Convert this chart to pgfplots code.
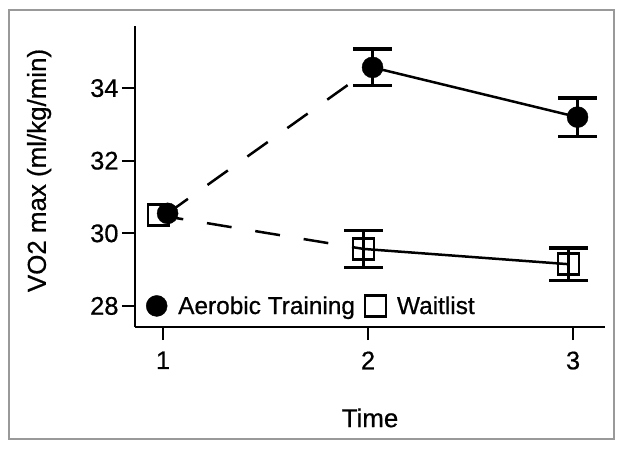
\documentclass[border=0pt]{standalone}
\usepackage{fontspec}
\setmainfont[FakeBold=0.6]{Liberation Sans}
\usepackage{pgfplots}
\pgfplotsset{compat=1.18}
\begin{document}
\begin{tikzpicture}
\path[use as bounding box] (0bp,0bp) rectangle (620bp,449bp);
\draw[black!40, line width=2.5bp] (9bp,10bp) rectangle (614bp,439bp);
\begin{axis}[
  at={(135bp,122bp)}, anchor=south west,
  scale only axis, width=470bp, height=301bp,
  xmin=0.863, xmax=3.156, ymin=27.42, ymax=35.71,
  clip marker paths=true,
  axis x line*=bottom, axis y line*=left,
  axis line style={line width=1.8bp, -},
  tick align=outside, major tick length=13bp,
  tick style={line width=1.8bp, black},
  xtick={1,2,3}, ytick={28,30,32,34},
  /pgf/number format/assume math mode=true,
  ticklabel style={font=\fontsize{25.5}{30}\selectfont},
  xticklabel style={yshift=-8bp},
  label style={font=\fontsize{26}{31}\selectfont},
  xlabel={Time}, ylabel={VO2 max (ml/kg/min)},
  xlabel style={at={(axis description cs:0.5,-0.302)}, anchor=center},
  ylabel style={at={(axis description cs:-0.204,0.52)}, anchor=center},
  legend style={at={(axis description cs:0.0234,0.07)}, anchor=west, draw=none, fill=none,
    font=\fontsize{24.5}{30}\selectfont, inner sep=0pt,
    /tikz/every odd column/.append style={column sep=9bp},
    /tikz/every even column/.append style={column sep=8bp}},
  legend columns=2,
  legend image code/.code={\draw[#1] plot coordinates {(11bp,0bp)};},
]
% markers
\addplot[forget plot, only marks, mark=square*, mark size=10.5bp, mark options={fill=white, draw=black, line width=2.5bp}]
  coordinates {(0.978,30.50) (1.978,29.57) (2.978,29.15)};
\addplot[forget plot, only marks, mark=*, mark size=10.5bp, mark options={fill=black, draw=black}]
  coordinates {(1.022,30.55) (2.022,34.57) (3.022,33.20)};
% lines
\addplot[forget plot, no marks, black, line width=2.5bp, dash pattern=on 25bp off 24bp]
  coordinates {(1.022,30.55) (2.022,34.57)};
\addplot[forget plot, no marks, black, line width=2.5bp, dash pattern=on 25bp off 24bp]
  coordinates {(0.978,30.50) (1.978,29.57)};
\addplot[forget plot, no marks, black, line width=2.5bp]
  coordinates {(2.022,34.57) (3.022,33.20)};
\addplot[forget plot, no marks, black, line width=2.5bp]
  coordinates {(1.978,29.57) (2.978,29.15)};
% error bars
\addplot[forget plot, draw=none, no marks, error bars/.cd, y dir=both, y explicit,
  error bar style={line width=3.5bp, black},
  error mark options={rotate=90, mark size=19.5bp, line width=3.5bp, black}]
  coordinates {(2.022,34.57) +- (0,0.50) (3.022,33.20) +- (0,0.53)};
\addplot[forget plot, draw=none, no marks, error bars/.cd, y dir=both, y explicit,
  error bar style={line width=3.5bp, black},
  error mark options={rotate=90, mark size=19.5bp, line width=3.5bp, black}]
  coordinates {(1.978,29.57) +- (0,0.51) (2.978,29.15) +- (0,0.45)};
% legend
\addlegendimage{only marks, mark=*, mark size=10.5bp, mark options={fill=black, draw=black}}
\addlegendentry{Aerobic Training}
\addlegendimage{only marks, mark=square*, mark size=10.5bp, mark options={fill=white, draw=black, line width=2.5bp}}
\addlegendentry{Waitlist}
\end{axis}
\end{tikzpicture}
\end{document}
